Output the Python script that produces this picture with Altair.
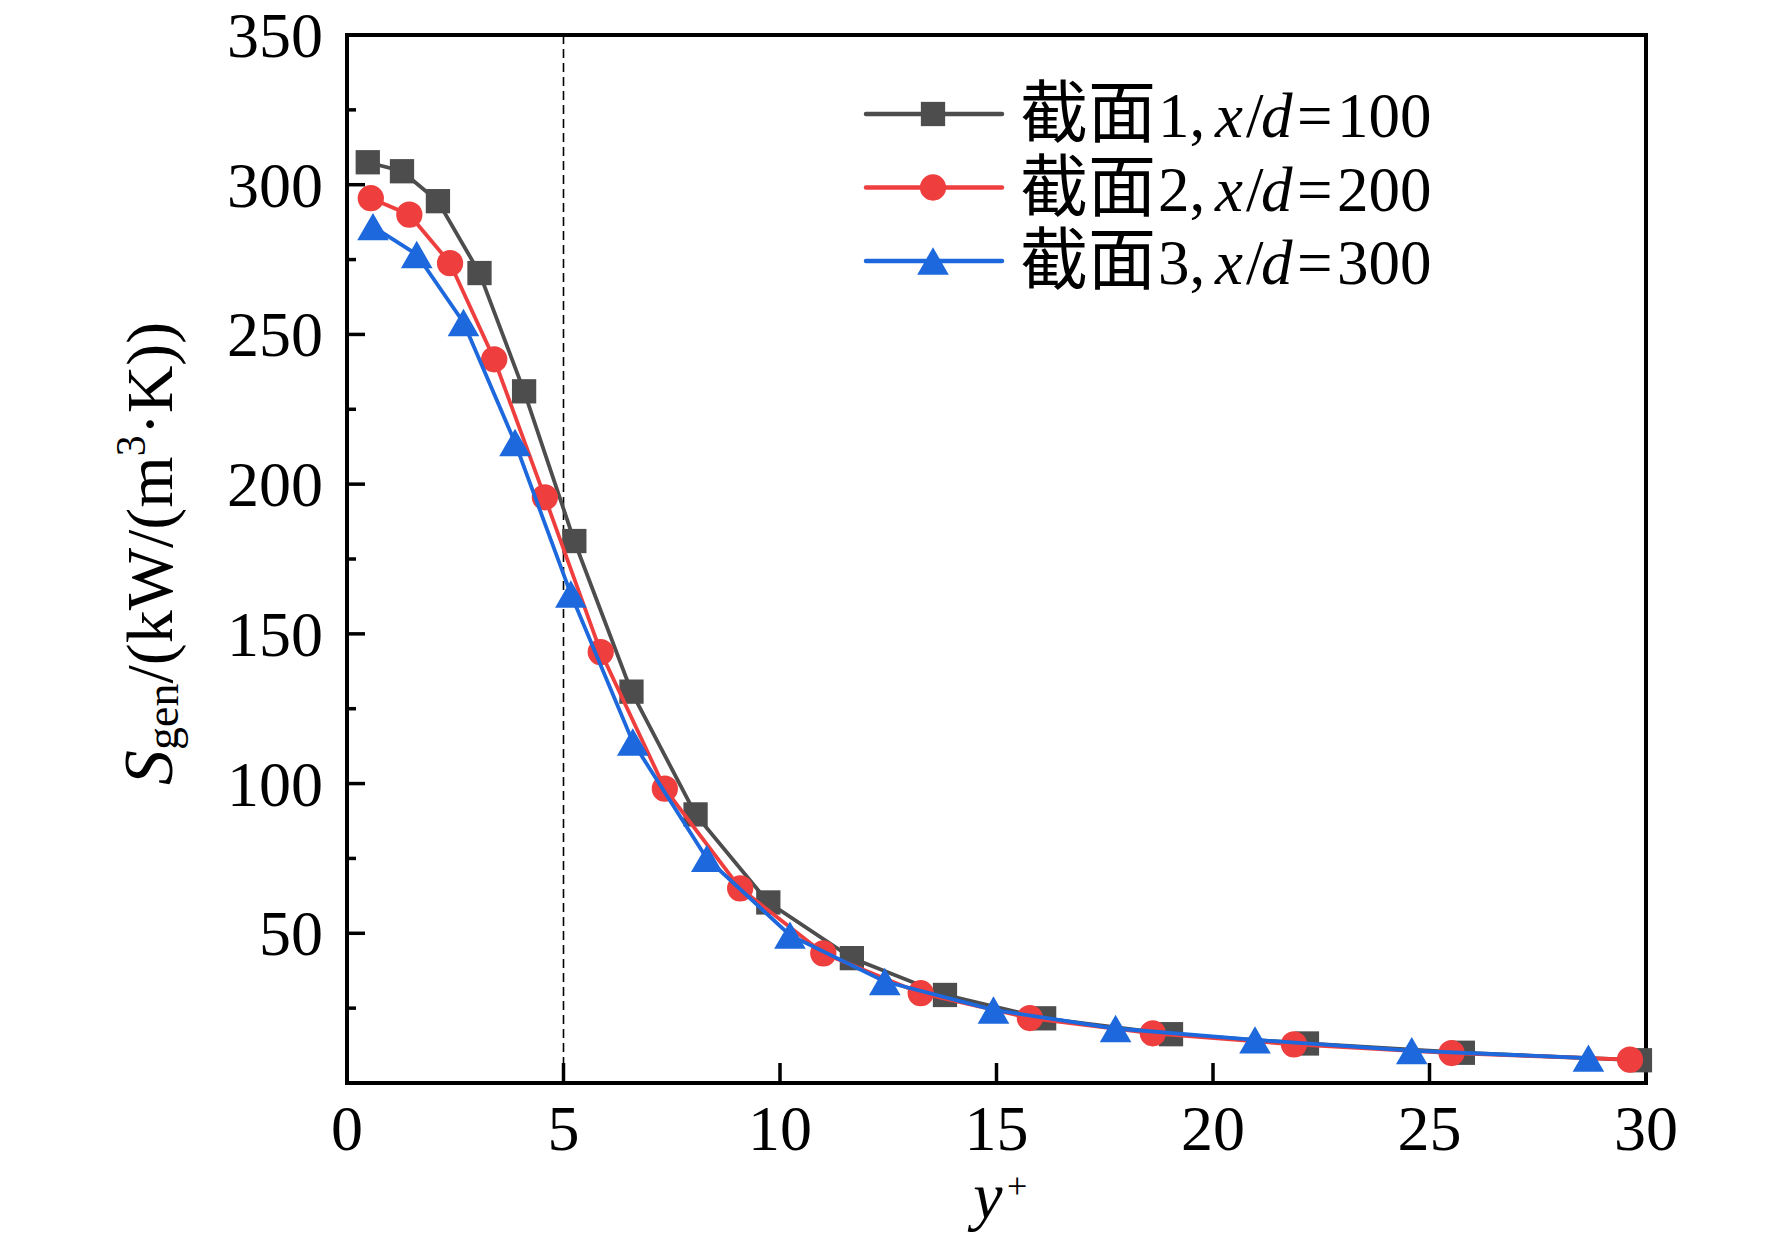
import altair as alt
import pandas as pd

# ---------------- data ----------------
series_names = ["截面1, x/d=100", "截面2, x/d=200", "截面3, x/d=300"]

x_s1 = [0.48, 1.27, 2.10, 3.06, 4.09, 5.25, 6.57, 8.05, 9.73, 11.66, 13.81, 16.10, 19.03, 22.17, 25.77, 29.86]
y_s1 = [307.5, 304.5, 294.5, 270.5, 231.0, 181.0, 130.7, 89.7, 60.3, 41.7, 29.4, 21.6, 16.3, 13.2, 10.1, 7.6]

x_s2 = [0.55, 1.44, 2.38, 3.40, 4.57, 5.86, 7.34, 9.08, 11.00, 13.25, 15.77, 18.61, 21.87, 25.51, 29.63]
y_s2 = [295.5, 290.0, 273.8, 241.7, 195.6, 143.9, 98.3, 65.0, 43.3, 30.0, 21.7, 16.6, 12.9, 10.0, 7.8]

x_s3 = [0.60, 1.61, 2.69, 3.88, 5.17, 6.60, 8.31, 10.23, 12.42, 14.93, 17.75, 20.97, 24.59, 28.67]
y_s3 = [286.0, 276.7, 254.0, 213.9, 163.3, 113.9, 75.0, 49.4, 33.9, 24.4, 18.2, 14.4, 10.8, 8.3]

x_ticks = [0, 5, 10, 15, 20, 25, 30]
y_ticks = [50, 100, 150, 200, 250, 300, 350]
y_minor = [25, 75, 125, 175, 225, 275, 325]
x_ref_line = [5]

legend_section = ["截面", "截面", "截面"]
legend_index = ["1,", "2,", "3,"]
legend_ratio = ["100", "200", "300"]

# ---------------- styling ----------------
W, H = 1299, 1048
colors = ["#4D4D4D", "#EE3E3E", "#1C68DC"]
shapes = ["square", "circle", "triangle-up"]
sizes = [590, 690, 1000]
SERIF = "Liberation Serif"
CJK = "Noto Sans CJK SC"

xscale = alt.Scale(domain=[0, 30], nice=False, zero=False)
yscale = alt.Scale(domain=[0, 350], nice=False, zero=False)

series_data = [
    pd.DataFrame({"x": x_s1, "y": y_s1, "s": series_names[0]}),
    pd.DataFrame({"x": x_s2, "y": y_s2, "s": series_names[1]}),
    pd.DataFrame({"x": x_s3, "y": y_s3, "s": series_names[2]}),
]

X_ = lambda f: alt.X(f, scale=xscale, axis=None)
Y_ = lambda f: alt.Y(f, scale=yscale, axis=None)

layers = []

# dashed reference line at y+ = 5
layers.append(alt.Chart(pd.DataFrame({"x": x_ref_line})).mark_rule(
    color="black", strokeWidth=1.6, strokeDash=[9, 5]
).encode(x=X_("x:Q"), y=alt.value(0), y2=alt.value(H)))

# series
for d, col, shp, sz in zip(series_data, colors, shapes, sizes):
    base = alt.Chart(d)
    layers.append(base.mark_line(color=col, strokeWidth=3.8).encode(
        x=X_("x:Q"), y=Y_("y:Q"), order="x:Q"))
    layers.append(base.mark_point(shape=shp, filled=True, size=sz, color=col, opacity=1).encode(
        x=X_("x:Q"), y=Y_("y:Q")))

# inward ticks
layers.append(alt.Chart(pd.DataFrame({"y": y_ticks})).mark_rule(color="black", strokeWidth=3.5).encode(
    y=Y_("y:Q"), x=alt.value(0), x2=alt.value(18)))
layers.append(alt.Chart(pd.DataFrame({"y": y_minor})).mark_rule(color="black", strokeWidth=3.5).encode(
    y=Y_("y:Q"), x=alt.value(0), x2=alt.value(9)))
layers.append(alt.Chart(pd.DataFrame({"x": x_ticks[1:-1]})).mark_rule(color="black", strokeWidth=3.5).encode(
    x=X_("x:Q"), y=alt.value(H), y2=alt.value(H - 20)))

# tick labels (through the scales)
layers.append(alt.Chart(pd.DataFrame({"y": y_ticks})).mark_text(
    align="right", baseline="alphabetic", dy=22, font=SERIF, fontSize=64, color="black"
).encode(y=Y_("y:Q"), x=alt.value(-24), text=alt.Text("y:Q", format="d")))
layers.append(alt.Chart(pd.DataFrame({"x": x_ticks})).mark_text(
    align="center", baseline="alphabetic", font=SERIF, fontSize=64, color="black"
).encode(x=X_("x:Q"), y=alt.value(H + 67), text=alt.Text("x:Q", format="d")))

# axis lines (left & bottom)
layers.append(alt.Chart(pd.DataFrame({"a": [0]})).mark_rule(color="black", strokeWidth=4).encode(
    x=alt.value(0), y=alt.value(0), y2=alt.value(H)))
layers.append(alt.Chart(pd.DataFrame({"a": [0]})).mark_rule(color="black", strokeWidth=4).encode(
    x=alt.value(0), x2=alt.value(W), y=alt.value(H)))

# ---------------- legend ----------------
dummy = pd.DataFrame({"a": [0]})
row_y0, row_dy = 79, 73.5
for i, (col, shp, sz) in enumerate(zip(colors, shapes, sizes)):
    yc = row_y0 + i * row_dy
    yb = yc + 23
    layers.append(alt.Chart(dummy).mark_rule(color=col, strokeWidth=4.5, strokeCap="round").encode(
        x=alt.value(519), x2=alt.value(655), y=alt.value(yc)))
    layers.append(alt.Chart(dummy).mark_point(shape=shp, filled=True, size=sz, color=col, opacity=1).encode(
        x=alt.value(586), y=alt.value(yc)))
    pieces = [
        (legend_section[i], 673, CJK, 68, "normal"),
        (legend_index[i], 811, SERIF, 63, "normal"),
        ("x", 868, SERIF, 63, "italic"),
        ("/", 899, SERIF, 63, "normal"),
        ("d", 914, SERIF, 63, "italic"),
        ("=", 950, SERIF, 63, "normal"),
        (legend_ratio[i], 990, SERIF, 63, "normal"),
    ]
    for txt, px, fnt, fs, sty in pieces:
        layers.append(alt.Chart(pd.DataFrame({"t": [txt]})).mark_text(
            align="left", baseline="alphabetic", font=fnt, fontSize=fs, fontStyle=sty, color="black"
        ).encode(x=alt.value(px), y=alt.value(yb), text="t:N"))

# ---------------- axis titles ----------------
def title_piece(txt, px, py, fs, sty="normal", angle=0, align="left"):
    params = dict(align=align, baseline="alphabetic", font=SERIF, fontSize=fs,
                  fontStyle=sty, color="black")
    if angle:
        params["angle"] = angle
    return alt.Chart(pd.DataFrame({"t": [txt]})).mark_text(**params).encode(
        x=alt.value(px), y=alt.value(py), text="t:N")

TF = 66
ypos = 750
yx = -175
layers.append(title_piece("S", yx, ypos, 70, "italic", 270))
ypos -= 0.5 * 70
layers.append(title_piece("gen", yx + 6, ypos, 46, "normal", 270))
ypos -= 1.444 * 46
layers.append(title_piece("/(kW/(m", yx, ypos, TF, "normal", 270))
ypos -= 3.444 * TF
layers.append(title_piece("3", yx - 27, ypos, 42, "normal", 270))
ypos -= 0.5 * 42
layers.append(title_piece("·K))", yx, ypos, TF, "normal", 270))

layers.append(title_piece("y", 641, 1183, 66, "italic", 0, "center"))
layers.append(title_piece("+", 660, 1163, 36, "normal", 0, "left"))

chart = alt.layer(*layers).properties(
    width=W, height=H,
    autosize=alt.AutoSizeParams(type="none"),
    padding={"left": 339, "top": 27, "right": 110, "bottom": 157},
    background="white",
).configure_view(
    stroke="black", strokeWidth=4
)

chart.save("out.html", embed_options={"renderer": "svg", "actions": False})
